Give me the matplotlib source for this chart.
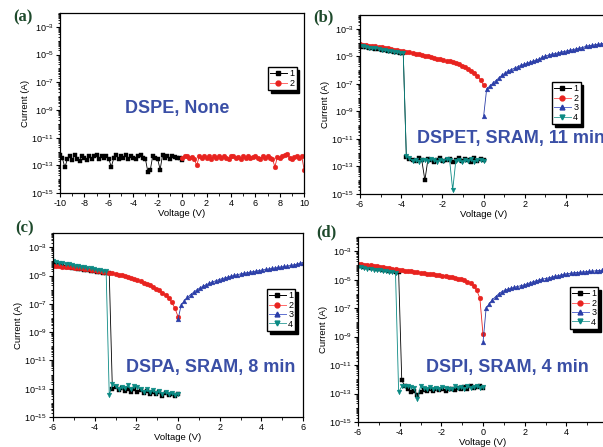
import numpy as np
import matplotlib.pyplot as plt
from matplotlib.ticker import FixedLocator, LogLocator, MultipleLocator, FuncFormatter, NullFormatter

plt.rcParams['font.family'] = 'Liberation Sans'
plt.rcParams['mathtext.fontset'] = 'custom'
plt.rcParams['mathtext.rm'] = 'Liberation Sans'
plt.rcParams['mathtext.it'] = 'Liberation Sans'
plt.rcParams['axes.unicode_minus'] = False

# ---- data: log10 of current (A) ----
# panel (a): DSPE, sweep 1 (-10 -> 0 V), sweep 2 (0 -> 10 V)
a_s1 = [-12.25, -12.5, -13.15, -12.55, -12.3, -12.6, -12.25, -12.55, -12.65, -12.3,
        -12.5, -12.6, -12.3, -12.55, -12.35, -12.25, -12.55, -12.3, -12.5, -12.3,
        -12.55, -13.1, -12.5, -12.25, -12.55, -12.3, -12.5, -12.25, -12.55, -12.3,
        -12.5, -12.55, -12.3, -12.25, -12.5, -12.55, -13.5, -13.3, -12.3, -12.5,
        -12.55, -13.3, -12.25, -12.5, -12.3, -12.55, -12.3, -12.4, -12.5, -12.45, -12.6]
a_s2 = [-12.45, -12.35, -12.3, -12.5, -12.4, -12.55, -13.0, -12.35, -12.5, -12.3,
        -12.45, -12.35, -12.55, -12.3, -12.45, -12.35, -12.5, -12.3, -12.45, -12.55,
        -12.35, -12.3, -12.5, -12.4, -12.55, -12.35, -12.45, -12.3, -12.5, -12.4,
        -12.3, -12.45, -12.55, -12.35, -12.5, -12.3, -12.45, -12.55, -13.1, -12.4,
        -12.5, -12.3, -12.25, -12.2, -12.45, -12.55, -12.4, -12.3, -12.45, -12.35, -13.35]

# panel (b): DSPET; sweeps 1, 2, 4 go 0 -> -6 V, sweep 3 goes 0 -> 6 V
b_s1 = [-12.55, -12.45, -12.6, -12.4, -12.65, -12.5, -12.45, -12.6, -12.4, -12.55,
        -12.65, -12.45, -12.5, -12.6, -12.4, -12.55, -12.65, -12.5, -12.45, -14.0,
        -12.55, -12.4, -12.6, -12.5, -12.45, -12.3,
        -4.78, -4.74, -4.7, -4.66, -4.62, -4.58, -4.55, -4.51, -4.47, -4.44,
        -4.4, -4.36, -4.32, -4.28, -4.24]
b_s2 = [-7.1, -6.7, -6.4, -6.2, -6.05, -5.92, -5.8, -5.68, -5.58, -5.5,
        -5.42, -5.36, -5.3, -5.27, -5.22, -5.18, -5.12, -5.06, -5.0, -4.95,
        -4.9, -4.85, -4.8, -4.75, -4.7, -4.66, -4.62, -4.58, -4.54, -4.5,
        -4.46, -4.42, -4.38, -4.34, -4.3, -4.27, -4.24, -4.21, -4.18, -4.15, -4.12]
b_s3 = [-9.35, -7.35, -7.15, -6.95, -6.75, -6.55, -6.35, -6.2, -6.05, -5.95,
        -5.85, -5.75, -5.65, -5.57, -5.5, -5.42, -5.35, -5.27, -5.18, -5.06,
        -4.97, -4.9, -4.85, -4.8, -4.75, -4.7, -4.64, -4.6, -4.55, -4.5,
        -4.45, -4.4, -4.35, -4.27, -4.22, -4.2, -4.15, -4.12, -4.08, -4.05, -4.02]
b_s4 = [-12.6, -12.5, -12.55, -12.65, -12.45, -12.6, -12.5, -12.7, -12.55, -12.6,
        -14.7, -12.55, -12.45, -12.6, -12.5, -12.65, -12.55, -12.45, -12.6, -12.5,
        -12.55, -12.65, -12.5, -12.6, -12.4, -12.25,
        -4.76, -4.73, -4.69, -4.65, -4.61, -4.57, -4.54, -4.5, -4.46, -4.42,
        -4.39, -4.35, -4.31, -4.27, -4.24]

# panel (c): DSPA
c_s1 = [-13.4, -13.5, -13.35, -13.45, -13.3, -13.5, -13.25, -13.35, -13.2, -13.4,
        -13.15, -13.3, -13.1, -13.25, -13.05, -13.2, -13.0, -13.15, -12.95, -13.1,
        -12.9, -13.05,
        -4.85, -4.82, -4.79, -4.76, -4.73, -4.7, -4.66, -4.63, -4.6, -4.56,
        -4.53, -4.49, -4.45, -4.41, -4.37, -4.33, -4.29, -4.25, -4.2]
c_s2 = [-7.9, -7.3, -6.9, -6.6, -6.4, -6.2, -6.05, -5.95, -5.82, -5.7,
        -5.6, -5.5, -5.4, -5.3, -5.23, -5.16, -5.1, -5.04, -4.98, -4.93,
        -4.88, -4.84, -4.8, -4.76, -4.72, -4.69, -4.65, -4.62, -4.59, -4.56,
        -4.53, -4.5, -4.48, -4.45, -4.43, -4.41, -4.39, -4.37, -4.35, -4.33, -4.32]
c_s3 = [-8.1, -7.1, -6.8, -6.55, -6.35, -6.18, -6.02, -5.88, -5.76, -5.65,
        -5.55, -5.46, -5.38, -5.3, -5.23, -5.17, -5.11, -5.05, -4.99, -4.94,
        -4.89, -4.85, -4.81, -4.77, -4.73, -4.69, -4.65, -4.61, -4.57, -4.54,
        -4.5, -4.47, -4.43, -4.4, -4.36, -4.33, -4.29, -4.25, -4.2, -4.14, -4.08]
c_s4 = [-13.35, -13.45, -13.3, -13.4, -13.2, -13.35, -13.15, -13.3, -13.1, -13.25,
        -13.05, -13.2, -13.0, -12.9, -12.8, -13.05, -12.75, -12.95, -12.85, -13.0,
        -12.8, -12.7, -13.45,
        -4.7, -4.66, -4.62, -4.58, -4.54, -4.5, -4.46, -4.42, -4.38, -4.34,
        -4.3, -4.26, -4.22, -4.18, -4.14, -4.1, -4.05, -4.0]

# panel (d): DSPI
d_s1 = [-12.6, -12.5, -12.55, -12.6, -12.5, -12.65, -12.55, -12.7, -12.6, -12.75,
        -12.65, -12.7, -12.8, -12.7, -12.75, -12.65, -12.8, -12.7, -12.85, -12.75,
        -12.9, -13.1, -12.8, -12.9, -12.7, -12.5, -12.05,
        -4.46, -4.43, -4.39, -4.36, -4.33, -4.29, -4.26, -4.22, -4.19, -4.15,
        -4.12, -4.08, -4.04, -4.0]
d_s2 = [-8.85, -6.3, -5.75, -5.45, -5.25, -5.15, -5.05, -4.98, -4.93, -4.88,
        -4.84, -4.8, -4.76, -4.72, -4.69, -4.66, -4.63, -4.6, -4.57, -4.54,
        -4.51, -4.48, -4.45, -4.42, -4.39, -4.36, -4.33, -4.3, -4.26, -4.22,
        -4.18, -4.15, -4.12, -4.09, -4.06, -4.03, -4.0, -3.97, -3.94, -3.9, -3.87]
d_s3 = [-9.4, -7.0, -6.7, -6.4, -6.2, -6.0, -5.85, -5.74, -5.66, -5.6,
        -5.54, -5.48, -5.43, -5.38, -5.3, -5.22, -5.15, -5.08, -5.02, -4.96,
        -4.92, -4.87, -4.82, -4.77, -4.72, -4.67, -4.62, -4.58, -4.55, -4.52,
        -4.5, -4.48, -4.46, -4.44, -4.42, -4.4, -4.38, -4.36, -4.34, -4.32, -4.3]
d_s4 = [-12.55, -12.6, -12.45, -12.55, -12.6, -12.5, -12.65, -12.55, -12.6, -12.5,
        -12.65, -12.7, -12.6, -12.55, -12.7, -12.6, -12.65, -12.55, -12.7, -12.6,
        -12.5, -13.4, -12.6, -12.55, -12.5, -12.45, -12.5, -12.9,
        -4.5, -4.47, -4.44, -4.41, -4.38, -4.35, -4.32, -4.29, -4.26, -4.22,
        -4.18, -4.14, -4.1]

titles = ['DSPE, None', 'DSPET, SRAM, 11 min', 'DSPA, SRAM, 8 min', 'DSPI, SRAM, 4 min']
panel_tags = ['(a)', '(b)', '(c)', '(d)']

colors = ['#000000', '#e8231f', '#2b3ea8', '#0b8a84']
markers = ['s', 'o', '^', 'v']
legend_line = ['#000000', '#ff6a6a', '#6070d0', '#4aaaa6']

fig = plt.figure(figsize=(6.03, 4.47), dpi=100)

boxes = [[0.0995, 0.568, 0.405, 0.403],
         [0.597, 0.566, 0.410, 0.400],
         [0.0879, 0.067, 0.4146, 0.4116],
         [0.5937, 0.0559, 0.4146, 0.4139]]
leg_pos = [(0.852, 0.70), (0.777, 0.626), (0.856, 0.696), (0.848, 0.73)]
txt_pos = [(0.48, 0.472, 'center'), (0.231, 0.313, 'left'),
           (0.292, 0.272, 'left'), (0.272, 0.297, 'left')]
tag_pos = [(0.038, 0.962), (0.537, 0.960), (0.040, 0.490), (0.542, 0.479)]


def style_axis(ax, xlim, xmajor):
    ax.set_yscale('log')
    ax.set_ylim(1e-15, 1e-2)
    ax.set_xlim(*xlim)
    ax.yaxis.set_major_locator(FixedLocator([10.0 ** e for e in range(-15, -2, 2)]))
    ax.yaxis.set_major_formatter(FuncFormatter(lambda y, p: r'$10^{%d}$' % round(np.log10(y))))
    ax.yaxis.set_minor_locator(LogLocator(base=10, subs=np.arange(1, 10), numticks=60))
    ax.yaxis.set_minor_formatter(NullFormatter())
    ax.xaxis.set_major_locator(MultipleLocator(xmajor))
    ax.xaxis.set_minor_locator(MultipleLocator(xmajor / 2))
    ax.tick_params(which='major', direction='out', length=3, width=0.8, labelsize=6.5, pad=1.5)
    ax.tick_params(which='minor', direction='out', length=1.8, width=0.6)
    for s in ax.spines.values():
        s.set_linewidth(0.9)
    ax.set_xlabel('Voltage (V)', fontsize=6.8, labelpad=0.5)
    ax.set_ylabel('Current (A)', fontsize=6.8, labelpad=1)


def draw(ax, xs, ys):
    for k, (x, y) in enumerate(zip(xs, ys)):
        ax.plot(x, 10.0 ** np.array(y), color=colors[k], marker=markers[k], ms=3.4,
                lw=0.6, mec=colors[k], mew=0.3)


axes = [fig.add_axes(b) for b in boxes]

# (a)
va1 = np.linspace(-10, 0, len(a_s1))
va2 = np.linspace(0, 10, len(a_s2))
draw(axes[0], [va1, va2], [a_s1, a_s2])
style_axis(axes[0], (-10, 10), 2)

# (b), (c), (d)
vneg = np.linspace(0, -6, 41)
vpos = np.linspace(0, 6, 41)
for ax, ser in zip(axes[1:], [(b_s1, b_s2, b_s3, b_s4),
                              (c_s1, c_s2, c_s3, c_s4),
                              (d_s1, d_s2, d_s3, d_s4)]):
    draw(ax, [vneg, vneg, vpos, vneg], list(ser))
    style_axis(ax, (-6, 6), 2)

for i, ax in enumerate(axes):
    n = 2 if i == 0 else 4
    handles = [plt.Line2D([], [], color=legend_line[k], lw=0.7, marker=markers[k], ms=3.5,
                          mfc=colors[k], mec=colors[k]) for k in range(n)]
    ax.legend(handles, [str(k + 1) for k in range(n)], loc='upper left',
              bbox_to_anchor=leg_pos[i], borderaxespad=0, fontsize=6.5, frameon=True,
              fancybox=False, shadow={'color': 'black', 'alpha': 1}, edgecolor='black',
              framealpha=1, handlelength=1.8, handletextpad=0.3, labelspacing=0.05,
              borderpad=0.25)
    tx, ty, ha = txt_pos[i]
    ax.text(tx, ty, titles[i], transform=ax.transAxes, ha=ha, va='center',
            fontsize=13, fontweight='bold', color='#3a4fa6')
    fig.text(tag_pos[i][0], tag_pos[i][1], panel_tags[i], ha='center', va='center',
             fontsize=12, fontweight='bold', family='Liberation Serif', color='#1e4a2c')

fig.savefig('out.png', dpi=100)
